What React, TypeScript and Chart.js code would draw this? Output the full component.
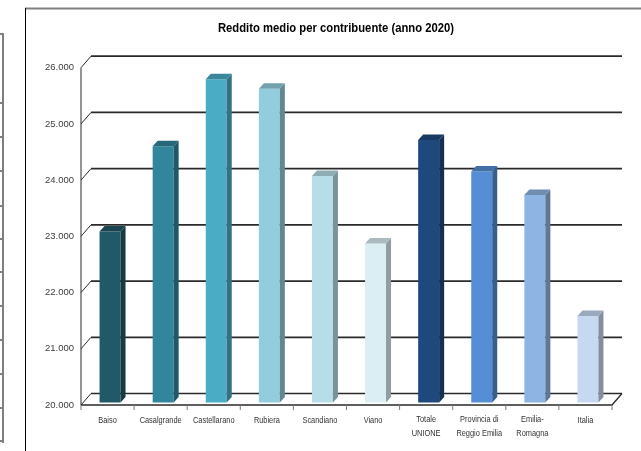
import React, { useEffect, useRef } from "react";
import { Chart, registerables } from "chart.js";

Chart.register(...registerables);

// ---- data ----
const categories: (string | string[])[] = [
  "Baiso",
  "Casalgrande",
  "Castellarano",
  "Rubiera",
  "Scandiano",
  "Viano",
  ["Totale", "UNIONE"],
  ["Provincia di", "Reggio Emilia"],
  ["Emilia-", "Romagna"],
  "Italia",
];
const incomeValues = [23040, 24560, 25750, 25580, 24030, 22830, 24670, 24110, 23690, 21540];
const barColors = [
  "#215968",
  "#31859c",
  "#4bacc6",
  "#93cddd",
  "#b7dee8",
  "#dbeef4",
  "#1f497d",
  "#558ed5",
  "#8eb4e3",
  "#c6d9f1",
];
const yMin = 20000;
const yMax = 26000;
const yStep = 1000;
const titleText = "Reddito medio per contribuente (anno 2020)";

// ---- styling ----
const SANS = "'Liberation Sans', Arial, sans-serif";
const WALL_DX = 10;
const WALL_DY = -11.5;
const BAR_DX = 2.5;
const BAR_DY = -2.5;
const DEPTH_X = 5;
const DEPTH_Y = -5.5;

function fmtIt(v: number): string {
  const s = Math.round(v).toString();
  return s.replace(/\B(?=(\d{3})+(?!\d))/g, ".");
}

function shade(hex: string, f: number): string {
  const n = parseInt(hex.slice(1), 16);
  const r = Math.round(((n >> 16) & 255) * f);
  const g = Math.round(((n >> 8) & 255) * f);
  const b = Math.round((n & 255) * f);
  return `rgb(${r},${g},${b})`;
}

function narrowText(ctx: any, text: string, x: number, y: number, sx: number) {
  ctx.save();
  ctx.translate(x, y);
  ctx.scale(sx, 1);
  ctx.fillText(text, 0, 0);
  ctx.restore();
}

const frame3d = {
  id: "frame3d",
  beforeDraw(chart: any) {
    const { ctx, width, height } = chart;
    ctx.save();
    ctx.fillStyle = "#ffffff";
    ctx.fillRect(0, 0, width, height);
    // neighbouring panel at the left edge
    ctx.fillStyle = "#808080";
    ctx.fillRect(2, 34, 2, 409);
    [34, 103, 137, 171, 206, 239, 272, 306, 340, 374, 408, 441].forEach((y) => {
      ctx.fillRect(0, y - 1, 4, 2);
    });
    // chart frame
    ctx.fillRect(25, 7.5, width - 25, 2);
    ctx.fillStyle = "#000000";
    ctx.fillRect(25, 8, 1, height - 8);
    // title
    ctx.fillStyle = "#000000";
    ctx.font = `bold 13.5px ${SANS}`;
    ctx.textAlign = "center";
    ctx.textBaseline = "middle";
    narrowText(ctx, titleText, 336, 28, 0.835);
    ctx.restore();
  },
  beforeDatasetsDraw(chart: any) {
    const { ctx, chartArea: a, scales } = chart;
    const ys = scales.y;
    const xs = scales.x;
    ctx.save();
    ctx.strokeStyle = "#2a2a2a";
    ys.ticks.forEach((t: any) => {
      const y = ys.getPixelForValue(t.value);
      ctx.lineWidth = 1.7;
      ctx.beginPath();
      ctx.moveTo(a.left + WALL_DX, y + WALL_DY);
      ctx.lineTo(a.right + WALL_DX, y + WALL_DY);
      ctx.stroke();
      ctx.lineWidth = 1;
      ctx.beginPath();
      ctx.moveTo(a.left, y);
      ctx.lineTo(a.left + WALL_DX, y + WALL_DY);
      ctx.stroke();
    });
    ctx.lineWidth = 1;
    ctx.beginPath();
    ctx.moveTo(a.left, ys.getPixelForValue(yMax));
    ctx.lineTo(a.left, ys.getPixelForValue(yMin));
    ctx.stroke();
    ctx.lineWidth = 1.3;
    ctx.beginPath();
    ctx.moveTo(a.left, a.bottom);
    ctx.lineTo(a.right, a.bottom);
    ctx.lineTo(a.right + WALL_DX, a.bottom + WALL_DY);
    ctx.stroke();
    // category tick marks
    ctx.lineWidth = 1;
    ctx.strokeStyle = "#7a7a7a";
    const n = chart.data.labels.length;
    const half = (xs.getPixelForValue(1) - xs.getPixelForValue(0)) / 2;
    for (let i = 0; i <= n; i++) {
      const x = i < n ? xs.getPixelForValue(i) - half : xs.getPixelForValue(n - 1) + half;
      ctx.beginPath();
      ctx.moveTo(x, a.bottom);
      ctx.lineTo(x, a.bottom + 5);
      ctx.stroke();
    }
    // category labels (narrow)
    ctx.fillStyle = "#333333";
    ctx.font = `9.5px ${SANS}`;
    ctx.textAlign = "center";
    ctx.textBaseline = "middle";
    chart.data.labels.forEach((lab: any, i: number) => {
      const x = xs.getPixelForValue(i);
      if (Array.isArray(lab)) {
        lab.forEach((line: string, k: number) => narrowText(ctx, line, x, a.bottom + 14.5 + k * 14, 0.78));
      } else {
        narrowText(ctx, lab, x, a.bottom + 15.5, 0.78);
      }
    });
    ctx.restore();
  },
  beforeDatasetDraw(chart: any) {
    chart.ctx.save();
    chart.ctx.translate(BAR_DX, BAR_DY);
  },
  afterDatasetDraw(chart: any, args: any) {
    const ctx = chart.ctx;
    args.meta.data.forEach((bar: any, i: number) => {
      const p = bar.getProps(["x", "y", "base", "width"], true);
      const l = p.x - p.width / 2;
      const r = p.x + p.width / 2;
      const c = barColors[i % barColors.length];
      // side face
      ctx.fillStyle = shade(c, 0.66);
      ctx.beginPath();
      ctx.moveTo(r, p.y);
      ctx.lineTo(r + DEPTH_X, p.y + DEPTH_Y);
      ctx.lineTo(r + DEPTH_X, p.base + DEPTH_Y);
      ctx.lineTo(r, p.base);
      ctx.closePath();
      ctx.fill();
      // top face
      ctx.fillStyle = shade(c, 0.78);
      ctx.beginPath();
      ctx.moveTo(l, p.y);
      ctx.lineTo(l + DEPTH_X, p.y + DEPTH_Y);
      ctx.lineTo(r + DEPTH_X, p.y + DEPTH_Y);
      ctx.lineTo(r, p.y);
      ctx.closePath();
      ctx.fill();
    });
    ctx.restore();
  },
};

export default function App() {
  const canvasRef = useRef<HTMLCanvasElement | null>(null);

  useEffect(() => {
    document.body.style.margin = "0";
    document.body.style.overflow = "hidden";
    const canvas = canvasRef.current;
    if (!canvas) return;
    const chart = new Chart(canvas, {
      type: "bar",
      data: {
        labels: categories as any,
        datasets: [
          {
            data: incomeValues,
            base: yMin,
            backgroundColor: barColors,
            borderWidth: 0,
            barPercentage: 0.395,
            categoryPercentage: 1,
            clip: false as any,
          } as any,
        ],
      },
      options: {
        responsive: false,
        animation: false,
        devicePixelRatio: 1,
        layout: { padding: { left: 31, right: 0, top: 67.7, bottom: 0 } },
        plugins: {
          legend: { display: false },
          tooltip: { enabled: false },
          title: { display: false },
        },
        scales: {
          x: {
            grid: { display: false, drawTicks: false },
            border: { display: false },
            ticks: { display: false },
            afterFit: (s: any) => {
              s.height = 46;
            },
          },
          y: {
            min: yMin,
            max: yMax,
            grid: { display: false, drawTicks: false },
            border: { display: false },
            ticks: {
              stepSize: yStep,
              padding: 7,
              color: "#404040",
              font: { family: SANS, size: 9.5 },
              callback: (v: any) => fmtIt(Number(v)),
            },
            afterFit: (s: any) => {
              s.width = 50;
            },
          },
          yRight: {
            type: "linear",
            position: "right",
            display: true,
            grid: { display: false, drawTicks: false },
            border: { display: false },
            ticks: { display: false },
            afterFit: (s: any) => {
              s.width = 29;
            },
          },
        },
      } as any,
      plugins: [frame3d],
    });
    return () => chart.destroy();
  }, []);

  return (
    <canvas
      ref={canvasRef}
      width={641}
      height={451}
      style={{ display: "block", width: 641, height: 451 }}
    />
  );
}
